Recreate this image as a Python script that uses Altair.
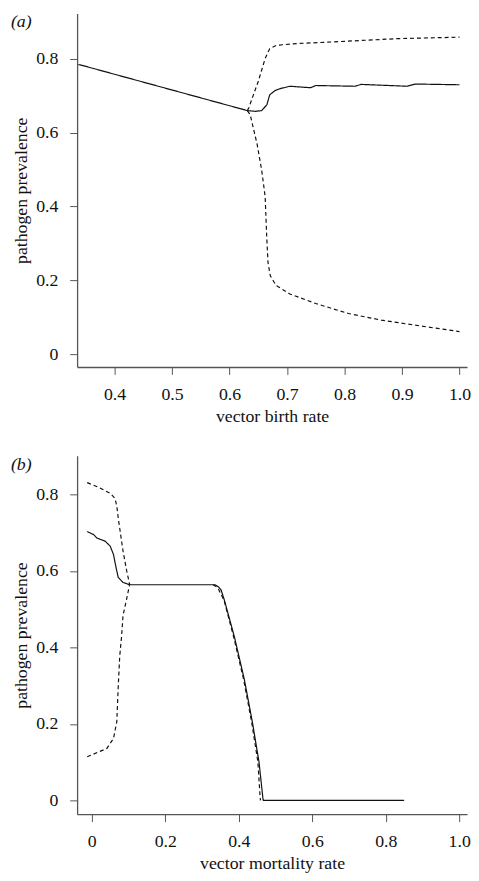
import altair as alt
import pandas as pd

FONT = "Liberation Serif"
FS = 18

# ---------- panel (a): vector birth rate ----------
a_solid_x = [0.337, 0.345, 0.631, 0.645, 0.656, 0.665, 0.670, 0.679, 0.687, 0.705, 0.741, 0.750, 0.818, 0.829, 0.909, 0.923, 1.0]
a_solid_y = [0.785, 0.782, 0.660, 0.658, 0.660, 0.676, 0.703, 0.714, 0.719, 0.726, 0.722, 0.728, 0.726, 0.731, 0.726, 0.732, 0.730]

a_upper_x = [0.631, 0.6335, 0.641, 0.650, 0.656, 0.662, 0.670, 0.682, 0.720, 0.778, 0.892, 1.0]
a_upper_y = [0.660, 0.667, 0.700, 0.739, 0.770, 0.801, 0.828, 0.837, 0.842, 0.846, 0.855, 0.859]

a_lower_x = [0.631, 0.636, 0.648, 0.656, 0.662, 0.6647, 0.667, 0.671, 0.681, 0.705, 0.750, 0.807, 0.864, 0.920, 1.0]
a_lower_y = [0.660, 0.649, 0.569, 0.498, 0.427, 0.319, 0.248, 0.212, 0.186, 0.163, 0.137, 0.110, 0.092, 0.079, 0.061]

# ---------- panel (b): vector mortality rate ----------
b_solid_x = [-0.0125, 0.005, 0.014, 0.036, 0.050, 0.059, 0.066, 0.072, 0.085, 0.103, 0.335, 0.345, 0.352, 0.361, 0.388, 0.415, 0.437, 0.455, 0.466, 0.467, 0.85]
b_solid_y = [0.703, 0.695, 0.686, 0.678, 0.665, 0.643, 0.609, 0.583, 0.570, 0.564, 0.564, 0.558, 0.550, 0.523, 0.428, 0.317, 0.205, 0.101, 0.003, 0.0, 0.0]

b_upper_x = [-0.0125, 0.020, 0.050, 0.063, 0.068, 0.072, 0.085, 0.095, 0.103]
b_upper_y = [0.831, 0.818, 0.803, 0.790, 0.770, 0.738, 0.652, 0.600, 0.565]

b_lower_x = [-0.0125, 0.041, 0.059, 0.068, 0.072, 0.076, 0.081, 0.085, 0.094, 0.103]
b_lower_y = [0.114, 0.136, 0.162, 0.205, 0.299, 0.377, 0.428, 0.484, 0.523, 0.565]

b_collapse_x = [0.330, 0.343, 0.360, 0.386, 0.413, 0.435, 0.452, 0.458, 0.459]
b_collapse_y = [0.564, 0.556, 0.523, 0.428, 0.317, 0.205, 0.101, 0.010, 0.0]

x_ticks_a = [0.4, 0.5, 0.6, 0.7, 0.8, 0.9, 1.0]
x_ticks_b = [0.0, 0.2, 0.4, 0.6, 0.8, 1.0]
y_ticks = [0.0, 0.2, 0.4, 0.6, 0.8]

# panel tags
tags = ["(a)", "(b)"]


def make_df(groups):
    rows = []
    for curve, style, xs, ys in groups:
        for i, (x, y) in enumerate(zip(xs, ys)):
            rows.append({"x": x, "y": y, "curve": curve, "style": style, "order": i})
    return pd.DataFrame(rows)


df_a = make_df([
    ("mean", "solid", a_solid_x, a_solid_y),
    ("upper", "dashed", a_upper_x, a_upper_y),
    ("lower", "dashed", a_lower_x, a_lower_y),
])
df_b = make_df([
    ("collapse", "dashed", b_collapse_x, b_collapse_y),
    ("mean", "solid", b_solid_x, b_solid_y),
    ("upper", "dashed", b_upper_x, b_upper_y),
    ("lower", "dashed", b_lower_x, b_lower_y),
])

LABEL_EXPR = "datum.value == 0 ? '0' : format(datum.value, '.1f')"

AXIS_STYLE = dict(
    labelExpr=LABEL_EXPR, grid=False, tickSize=7.5, labelFlush=False,
    labelOverlap=False, labelFont=FONT, titleFont=FONT, labelFontSize=FS,
    titleFontSize=FS, titleFontWeight="normal", labelColor="#111",
    titleColor="#111", domainColor="#555", domainWidth=1.3,
    tickColor="#555", tickWidth=1,
)


def panel(df, xdom, ydom, xvals, xtitle, tag, w, h):
    xscale = alt.Scale(domain=xdom, nice=False, zero=False)
    yscale = alt.Scale(domain=ydom, nice=False, zero=False)
    lines = alt.Chart(df).mark_line(color="#111", strokeWidth=1.2, clip=True).encode(
        x=alt.X(
            "x:Q", scale=xscale,
            axis=alt.Axis(values=xvals, title=xtitle, labelPadding=11,
                          titlePadding=5, **AXIS_STYLE),
        ),
        y=alt.Y(
            "y:Q", scale=yscale,
            axis=alt.Axis(values=y_ticks, title="pathogen prevalence",
                          labelPadding=12, titlePadding=5.5, **AXIS_STYLE),
        ),
        strokeDash=alt.StrokeDash(
            "style:N",
            scale=alt.Scale(domain=["solid", "dashed"], range=[[1, 0], [4, 3]]),
            legend=None,
        ),
        detail="curve:N",
        order="order:Q",
    )
    tag_df = pd.DataFrame({"x": [xdom[0]], "y": [ydom[1]], "tag": [tag]})
    label = alt.Chart(tag_df).mark_text(
        align="left", baseline="top", dx=-67, dy=0, font=FONT, fontSize=FS,
        fontStyle="italic", color="#111",
    ).encode(x=alt.X("x:Q", scale=xscale), y=alt.Y("y:Q", scale=yscale), text="tag:N")
    return alt.layer(lines, label).properties(width=w, height=h)


chart_a = panel(df_a, [0.335, 1.0131], [-0.035, 0.923], x_ticks_a,
                "vector birth rate", tags[0], 395, 358)
chart_b = panel(df_b, [-0.04, 1.0213], [-0.036, 0.901], x_ticks_b,
                "vector mortality rate", tags[1], 395, 363)

chart = alt.vconcat(chart_a, chart_b, spacing=30).properties(
    padding={"left": 3, "top": 0, "right": 0, "bottom": 0},
    background="white",
).configure(
    font=FONT,
    style={"guide-label": {"font": FONT}, "guide-title": {"font": FONT}},
).configure_view(stroke=None)

chart.save("out.html", embed_options={"renderer": "svg", "actions": False})
